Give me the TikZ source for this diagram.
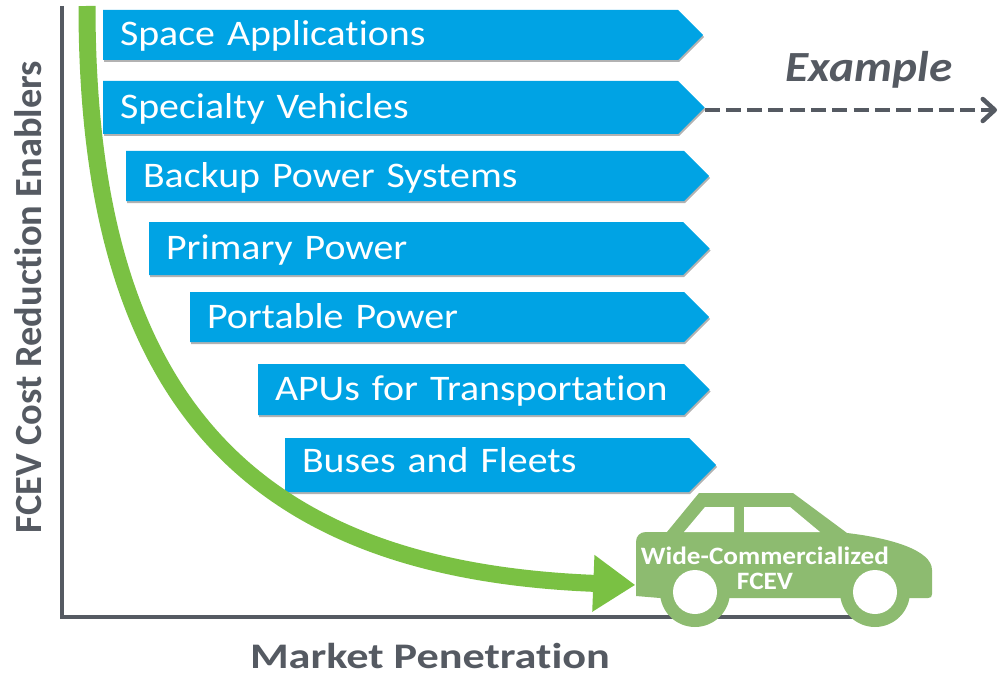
\documentclass[tikz,border=0pt]{standalone}
\usepackage{fontspec}
\setmainfont{Carlito}
\newfontfamily\bannerfont[FakeStretch=1.107,Ligatures=NoCommon]{Carlito}
\newfontfamily\marketfont[FakeStretch=1.23,Ligatures=NoCommon]{Carlito}
\newfontfamily\enablerfont[Ligatures=NoCommon]{Carlito}
\newfontfamily\examplefont[FakeStretch=1.1]{Carlito}
\newfontfamily\carfont[FakeStretch=1.09]{Carlito}
\usetikzlibrary{arrows.meta,shapes.symbols,shadows}
\definecolor{bannerblue}{HTML}{00A3E4}
\definecolor{curvegreen}{HTML}{7AC143}
\definecolor{cargreen}{HTML}{8DBB70}
\definecolor{axisgray}{HTML}{555A62}
\tikzset{
  banner/.style={signal, signal to=east, signal pointer angle=90, anchor=west, fill=bannerblue,
    text=white, align=left, inner xsep=17pt, inner ysep=0pt, outer sep=0pt,
    text height=22pt, text depth=0pt,
    drop shadow={shadow xshift=1pt, shadow yshift=-2pt, opacity=0.3, fill=black},
    font=\fontsize{36}{38}\bannerfont},
  axislabel/.style={text=axisgray, inner sep=0pt, font=\bfseries},
  carlabel/.style={text=white, align=center, inner sep=0pt, font=\fontsize{25}{25}\carfont\bfseries}
}
\begin{document}
\begin{tikzpicture}[x=1pt,y=-1pt]
\useasboundingbox (0,0) rectangle (999,674);
\coordinate (top) at (62,6);
\coordinate (corner) at (62,617);
\coordinate (right) at (855,617);
\draw[axisgray, line width=4pt] (top) -- (corner) -- (right);
\node (space) at (103,35) [banner, minimum height=50pt, text width=541pt] {Space Applications};
\node (spec) at (103,107.5) [banner, minimum height=53pt, text width=541pt] {Specialty Vehicles};
\node (backup) at (126,176) [banner, minimum height=50pt, text width=524pt] {Backup Power Systems};
\node (prim) at (149,248.5) [banner, minimum height=53pt, text width=500pt] {Primary Power};
\node (port) at (190,317) [banner, minimum height=50pt, text width=460pt] {Portable Power};
\node (apu) at (258,389.5) [banner, minimum height=51pt, text width=392pt] {\mbox{APUs for Transportation}};
\node (bus) at (285,465) [banner, minimum height=54pt, text width=370pt, text height=15pt] {Buses and Fleets};
\coordinate (start) at (87,6);
\fill[cargreen] (636,596) -- (636,542) .. controls (636,536) and (640,532) .. (646,532) -- (667,532)
  -- (699,493) -- (793,493) -- (847,533) .. controls (890,538) and (932,550) .. (932,570)
  -- (932,594) .. controls (932,597) and (931,598) .. (928,598) -- (660,598) -- cycle;
\fill[cargreen] (695,592) circle[radius=35pt];
\fill[cargreen] (875,592) circle[radius=35pt];
\fill[white] (684,532) -- (705,507) -- (734,507) -- (734,532) -- cycle;
\fill[white] (744,532) -- (744,507) -- (790,507) -- (820,532) -- cycle;
\fill[white] (695,592) circle[radius=22pt];
\fill[white] (875,592) circle[radius=22pt];
\node (car) at (636,585) [inner sep=0pt] {};
\draw[-{Triangle[length=42pt,width=54pt]}, curvegreen, line width=17pt] (start) .. controls (87,400) and (250,570) .. (car);
\node (carname) at (765,568) [carlabel] {Wide-Commercialized\\FCEV};
\coordinate (end) at (997,110);
\draw[-{Straight Barb[length=12pt,width=22pt,round]}, axisgray, line width=4.5pt, dash pattern=on 15pt off 6.3pt] (spec.east |- end) -- (end);
\node (example) at (869,70) [text=axisgray, font=\fontsize{43}{44}\examplefont\bfseries\itshape] {Example};
\node (ylabel) at (28,297) [axislabel, rotate=90, font=\fontsize{38.4}{40}\enablerfont\bfseries] {FCEV Cost Reduction Enablers};
\node (xlabel) at (430,668) [axislabel, anchor=base, text depth=0pt, font=\fontsize{36}{38}\marketfont\bfseries] {Market Penetration};
\end{tikzpicture}
\end{document}
